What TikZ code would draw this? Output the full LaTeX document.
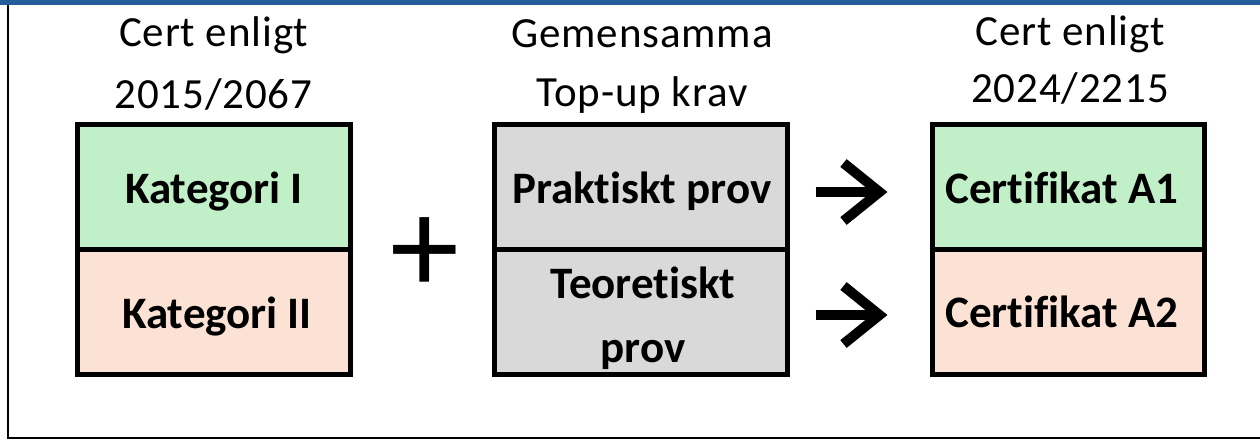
\documentclass[tikz,border=0pt]{standalone}
\usepackage{fontspec}
\setmainfont{Carlito}[Ligatures={NoCommon}]
\usetikzlibrary{calc}
\definecolor{topbar}{HTML}{215E99}
\definecolor{cellgreen}{HTML}{C1EFC8}
\definecolor{cellpink}{HTML}{FBE2D5}
\definecolor{cellgray}{HTML}{D9D9D9}
\tikzset{
  cell/.style={draw=black, line width=2.5pt, rectangle, inner sep=0pt, minimum height=62.5pt},
  head/.style={anchor=base, inner sep=0pt, font=\fontsize{21.5pt}{25pt}\selectfont\addfontfeature{LetterSpace=2}},
  lab/.style={anchor=base, inner sep=0pt, font=\fontsize{22.5pt}{27pt}\selectfont\bfseries},
  arrowline/.style={line width=5pt, line join=miter},
  frameline/.style={line width=1pt, black}
}
\begin{document}
\begin{tikzpicture}[x=0.5pt,y=-0.5pt]
\useasboundingbox (0,0) rectangle (1260,441);
\clip (0,0) rectangle (1260,441);
% frame and top bar
\draw[frameline] (8,-10) -- (8,438) -- (1270,438);
\fill[topbar] (0,-2) rectangle (1262,5);
% cells
\node[cell, fill=cellgreen, minimum width=136.5pt] (k1) at (213.5,187) {};
\node[cell, fill=cellpink, minimum width=136.5pt] (k2) at (213.5,312) {};
\node[cell, fill=cellgray, minimum width=146.25pt] (p1) at (640.75,187) {};
\node[cell, fill=cellgray, minimum width=146.25pt] (p2) at (640.75,312) {};
\node[cell, fill=cellgreen, minimum width=136pt] (c1) at (1068,187) {};
\node[cell, fill=cellpink, minimum width=136pt] (c2) at (1068,312) {};
% headings
\node[head] (h1a) at (213.5,46) {Cert enligt};
\node[head] (h1b) at (213.5,108) {2015/2067};
\node[head] (h2a) at (642,47) {Gemensamma};
\node[head] (h2b) at (642,106) {Top-up krav};
\node[head] (h3a) at (1070,45) {Cert enligt};
\node[head] (h3b) at (1070,102) {2024/2215};
% cell labels
\node[lab] (k1t) at (214,203) {Kategori I};
\node[lab] (k2t) at (217,328) {Kategori II};
\node[lab] (p1t) at (642,203) {Praktiskt prov};
\node[lab] (p2ta) at (643,298) {Teoretiskt};
\node[lab] (p2tb) at (643,362) {prov};
\node[lab] (c1t) at (1062,203) {Certifikat A1};
\node[lab] (c2t) at (1062,327) {Certifikat A2};
% plus
\node[anchor=base, inner sep=0pt, font=\fontsize{69pt}{75pt}\selectfont] (plus) at (425,293) {+};
% arrows
\coordinate (a1) at ($(p1.east)+(26,5)$);
\coordinate (b1) at ($(c1.west)+(-50,5)$);
\coordinate (a2) at ($(p2.east)+(26,3)$);
\coordinate (b2) at ($(c2.west)+(-50,3)$);
\draw[arrowline] (a1) -- (b1);
\draw[arrowline] ($(b1)+(-36,-29)$) -- (b1) -- ($(b1)+(-36,29)$);
\draw[arrowline] (a2) -- (b2);
\draw[arrowline] ($(b2)+(-36,-29)$) -- (b2) -- ($(b2)+(-36,29)$);
\end{tikzpicture}
\end{document}
